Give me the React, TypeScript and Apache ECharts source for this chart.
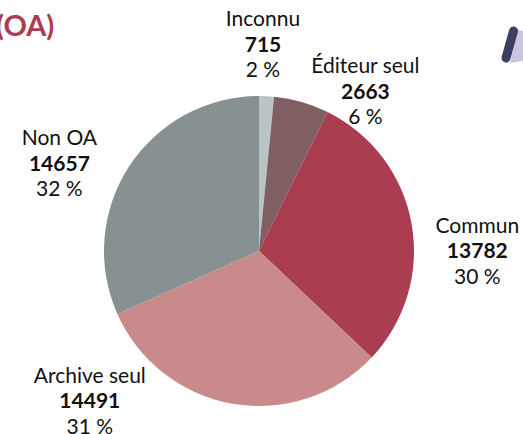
import React, { useEffect, useRef } from "react";
import * as echarts from "echarts";

const categories = ["Inconnu", "Éditeur seul", "Commun", "Archive seul", "Non OA"];
const values = [715, 2663, 13782, 14491, 14657];
const percents = [2, 6, 30, 31, 32];
const colors = ["#b9c4c6", "#7f5f60", "#aa3d50", "#c98a8b", "#879192"];
const labelShifts = [[-41, -47], [8, -6], [18, 27], [-86, -10], [-27, -1]];

export default function App() {
  const ref = useRef<HTMLDivElement>(null);
  useEffect(() => {
    document.body.style.margin = "0";
    const chart = echarts.init(ref.current!, null, { renderer: "svg" });
    chart.setOption({
      animation: false,
      textStyle: { fontFamily: "Lato" },
      graphic: [
        { type: "text", x: -4, y: 24, style: { text: "(OA)", font: "bold 29px Lato", fill: "#aa3d50", verticalAlign: "middle" } },
        { type: "polygon", shape: { points: [[518, 30], [523, 31], [523, 61], [510, 63]] }, style: { fill: "#c9c6de" } },
        { type: "line", shape: { x1: 513.5, y1: 31, x2: 506, y2: 58 }, style: { stroke: "#3d3f63", lineWidth: 9, lineCap: "round" } },
      ],
      series: [
        {
          type: "pie",
          center: [259, 251],
          radius: [0, 155],
          startAngle: 90,
          clockwise: true,
          data: categories.map((name, i) => ({
            name,
            value: values[i],
            itemStyle: { color: colors[i] },
          })),
          label: {
            show: true,
            position: "outside",
            alignTo: "none",
            distanceToLabelLine: 0,
            formatter: (p: any) => `{n|${p.name}}\n{b|${p.value}}\n{n|${percents[p.dataIndex]} %}`,
            rich: {
              n: { fontFamily: "Lato", fontSize: 21, color: "#111", lineHeight: 25.5, align: "center" },
              b: { fontFamily: "Lato", fontSize: 21, fontWeight: "bold", color: "#111", lineHeight: 25.5, align: "center" },
            },
          },
          labelLine: { show: false, length: 6, length2: 0 },
          labelLayout: (p: any) => ({ dx: labelShifts[p.dataIndex][0], dy: labelShifts[p.dataIndex][1] }),
          emphasis: { disabled: true },
          avoidLabelOverlap: false,
        },
      ],
    });
    return () => chart.dispose();
  }, []);
  return <div ref={ref} style={{ width: 523, height: 434 }} />;
}
